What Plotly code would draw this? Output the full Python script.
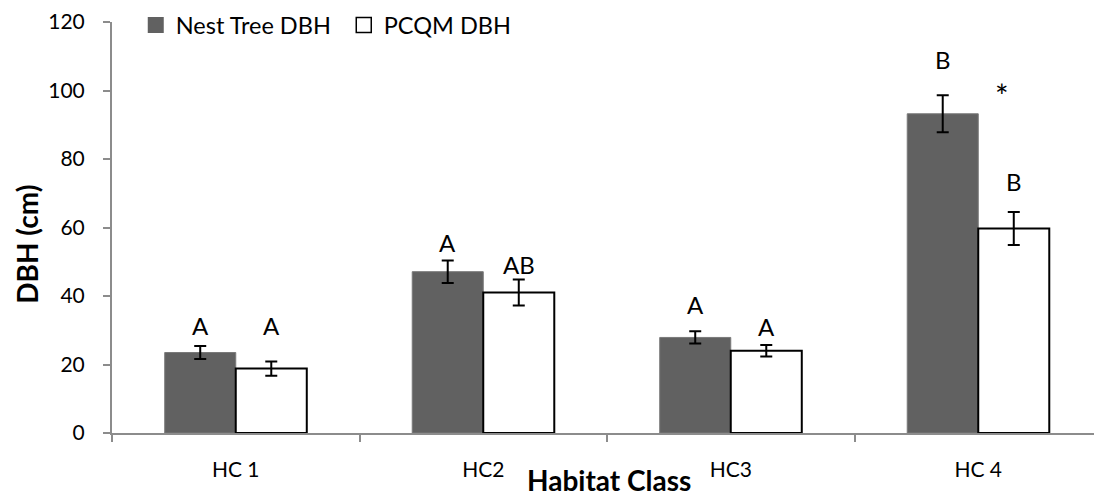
import plotly.graph_objects as go

categories = ["HC 1", "HC2", "HC3", "HC 4"]
nest_dbh = [23.5, 47.1, 27.9, 93.2]
nest_err = [1.9, 3.3, 1.8, 5.4]
pcqm_dbh = [18.8, 41.0, 24.0, 59.7]
pcqm_err = [2.1, 3.8, 1.7, 4.8]
nest_letters = ["A", "A", "A", "B"]
pcqm_letters = ["A", "AB", "A", "B"]
nest_letter_y = [31.4, 55.5, 37.5, 109.0]
pcqm_letter_y = [31.4, 49.1, 31.2, 73.3]
star_label = "*"
star_y = 98.5
star_cat = 3

FONT = "Lato, 'Open Sans', sans-serif"
BARGAP = 0.426
half = (1 - BARGAP) / 4

fig = go.Figure()
fig.add_trace(go.Bar(
    name="Nest Tree DBH", x=categories, y=nest_dbh, showlegend=False,
    marker=dict(color="#616161", line=dict(color="#7a7a7a", width=1)),
    error_y=dict(type="data", array=nest_err, color="black", thickness=2, width=6),
))
fig.add_trace(go.Bar(
    name="PCQM DBH", x=categories, y=pcqm_dbh, showlegend=False,
    marker=dict(color="white", line=dict(color="black", width=2)),
    error_y=dict(type="data", array=pcqm_err, color="black", thickness=2, width=6),
))
# legend entries (square swatches)
fig.add_trace(go.Scatter(
    name="Nest Tree DBH", x=[None], y=[None], mode="markers",
    marker=dict(symbol="square", size=16, color="#616161", line=dict(width=0)),
))
fig.add_trace(go.Scatter(
    name="PCQM DBH", x=[None], y=[None], mode="markers",
    marker=dict(symbol="square", size=15, color="white", line=dict(color="black", width=1.5)),
))

for i in range(len(categories)):
    fig.add_annotation(x=i - half, y=nest_letter_y[i], text=nest_letters[i],
                       showarrow=False, xref="x", yref="y",
                       font=dict(family=FONT, size=24, color="black"))
    fig.add_annotation(x=i + half, y=pcqm_letter_y[i], text=pcqm_letters[i],
                       showarrow=False, xref="x", yref="y",
                       font=dict(family=FONT, size=24, color="black"))
fig.add_annotation(x=star_cat + half - 0.048, y=star_y, text=star_label,
                   showarrow=False, xref="x", yref="y",
                   font=dict(family=FONT, size=32, color="black"))

fig.add_annotation(x=0.502, y=-0.114, xref="paper", yref="paper", yanchor="middle",
                   text="<b>Habitat Class</b>", showarrow=False,
                   font=dict(family=FONT, size=28, color="black"))
fig.add_annotation(x=-0.086, y=0.46, xref="paper", yref="paper", textangle=-90,
                   xanchor="center", yanchor="middle",
                   text="<b>DBH (cm)</b>", showarrow=False,
                   font=dict(family=FONT, size=28, color="black"))

fig.update_layout(
    width=1094, height=488,
    margin=dict(l=104, r=0, t=14, b=63, autoexpand=False),
    paper_bgcolor="white", plot_bgcolor="white",
    barmode="group", bargap=BARGAP, bargroupgap=0,
    font=dict(family=FONT, size=21, color="black"),
    legend=dict(orientation="h", x=0.024, y=0.992, xanchor="left", yanchor="middle",
                font=dict(family=FONT, size=23.5), bgcolor="rgba(0,0,0,0)",
                itemwidth=30, entrywidth=163, traceorder="normal", itemclick=False),
    showlegend=True,
)
fig.update_xaxes(
    type="category", showline=True, linecolor="#8c8c8c", linewidth=2,
    ticks="outside", tickson="boundaries", ticklen=7, tickcolor="#8c8c8c", tickwidth=2,
    tickfont=dict(family=FONT, size=21), showgrid=False, ticklabelstandoff=17,
)
fig.update_yaxes(
    range=[0, 120], dtick=20, showline=True, linecolor="#8c8c8c", linewidth=2,
    ticks="outside", ticklen=7, tickcolor="#8c8c8c", tickwidth=2,
    tickfont=dict(family=FONT, size=21), showgrid=False, zeroline=False,
    ticklabelstandoff=14, ticklabeloverflow="allow",
)

fig.write_html("out.html")
